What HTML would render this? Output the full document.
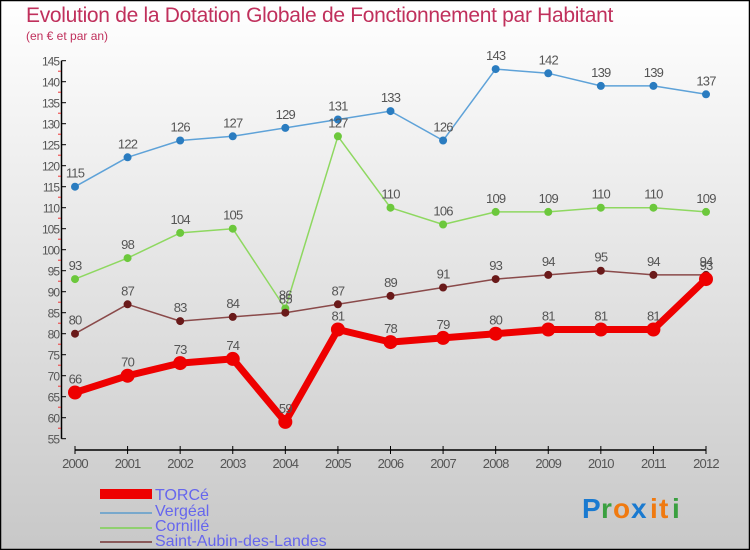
<!DOCTYPE html>
<html><head><meta charset="utf-8"><style>
body{margin:0;padding:0}
#c{width:750px;height:550px;position:relative;overflow:hidden}
svg text{font-family:"Liberation Sans",sans-serif}
</style></head><body>
<div id="c">
<svg id="s" width="750" height="550" xmlns="http://www.w3.org/2000/svg">
<defs><linearGradient id="bg" x1="0" y1="0" x2="0" y2="1"><stop offset="0" stop-color="#ffffff"/><stop offset="1" stop-color="#c8c8c8"/></linearGradient></defs>
<rect x="0.5" y="0.5" width="749" height="549" fill="url(#bg)" stroke="#000" stroke-width="1.5"/>
<text x="26" y="22" font-size="21" fill="#c0305c" letter-spacing="-0.3">Evolution de la Dotation Globale de Fonctionnement par Habitant</text>
<text x="26" y="40" font-size="12" fill="#c0305c">(en € et par an)</text>
<g id="axes"></g><g id="series"></g>
<g>
<rect x="100" y="489" width="52" height="10" fill="#e00"/>
<text x="155" y="500" font-size="16" fill="#6666ee">TORCé</text>
<line x1="100" y1="513" x2="152" y2="513" stroke="#78a8cc" stroke-width="2"/>
<text x="155" y="516" font-size="16" fill="#6666ee">Vergéal</text>
<line x1="100" y1="528" x2="152" y2="528" stroke="#90d070" stroke-width="2"/>
<text x="155" y="531" font-size="16" fill="#6666ee">Cornillé</text>
<line x1="100" y1="542" x2="152" y2="542" stroke="#8a5a5a" stroke-width="2"/>
<text x="155" y="546" font-size="16" fill="#6666ee">Saint-Aubin-des-Landes</text>
</g>
<g font-size="28" font-weight="bold">
<text x="582" y="518" fill="#1a7ad0">P</text><text x="601" y="518" fill="#3aa040">r</text><text x="613" y="518" fill="#f07a10">o</text><text x="631" y="518" fill="#1a7ad0">x</text><text x="650" y="518" fill="#f07a10">i</text><text x="659" y="518" fill="#f07a10">t</text><text x="672" y="518" fill="#3aa040">i</text>
</g>
</svg></div>
<script>
const years=["2000","2001","2002","2003","2004","2005","2006","2007","2008","2009","2010","2011","2012"];
const yTicks=[55,60,65,70,75,80,85,90,95,100,105,110,115,120,125,130,135,140,145];
const torce=[66,70,73,74,59,81,78,79,80,81,81,81,93];
const vergeal=[115,122,126,127,129,131,133,126,143,142,139,139,137];
const cornille=[93,98,104,105,86,127,110,106,109,109,110,110,109];
const saintAubin=[80,87,83,84,85,87,89,91,93,94,95,94,94];
const NS="http://www.w3.org/2000/svg";
function X(i){return 75+i*(706-75)/(years.length-1);}
function Y(v){return 60.7+(145-v)*4.2;}
function mk(t,a,p){const e=document.createElementNS(NS,t);for(const k in a)e.setAttribute(k,a[k]);p.appendChild(e);return e;}
const ax=document.getElementById('axes');
let yl=mk('line',{x1:61.5,y1:Y(145),x2:61.5,y2:Y(55),stroke:'#000','stroke-width':1.5},ax);


yTicks.forEach(v=>{
 const t=mk('line',{x1:61.5,y1:Y(v),x2:66,y2:Y(v),stroke:'#000'},ax);
 
 
 if(v<145){const m=mk('line',{x1:58,y1:Y(v+2.5),x2:61,y2:Y(v+2.5),stroke:'#e33'},ax);
 
 }
 const l=mk('text',{x:59,y:Y(v)+5,'font-size':12,fill:'#555','text-anchor':'end','letter-spacing':'-1'},ax);
 l.textContent=v;
 
 
});
let xl=mk('line',{x1:X(0),y1:450,x2:X(12),y2:450,stroke:'#000','stroke-width':1.5},ax);


years.forEach((y,i)=>{
 const t=mk('line',{x1:X(i),y1:446,x2:X(i),y2:454,stroke:'#000'},ax);
 
 
 const l=mk('text',{x:X(i),y:468,'font-size':13,fill:'#555','text-anchor':'middle','letter-spacing':'-0.8'},ax);
 l.textContent=y;
 
 
});
const sg=document.getElementById('series');
function draw(name,data,color,dot,w,r){
 const g=mk('g',{},sg);
 
 
 const pl=mk('polyline',{points:data.map((v,i)=>X(i)+','+Y(v)).join(' '),fill:'none',stroke:color,'stroke-width':w,'stroke-linejoin':'round'},g);
 
 
 data.forEach((v,i)=>{
  const c=mk('circle',{cx:X(i),cy:Y(v),r:r,fill:dot},g);
  
  
  const t=mk('text',{x:X(i),y:Y(v)-9,'font-size':13,fill:'#555','text-anchor':'middle','letter-spacing':'-0.8'},g);
  t.textContent=v;
  
  
 });
}
draw('vergeal',vergeal,'#5ea2d8','#2a7cc0',1.5,4);
draw('cornille',cornille,'#8ed860','#6cc83c',1.5,4);
draw('saint-aubin',saintAubin,'#8a4a4a','#6a1a1a',1.5,4);
draw('torce',torce,'#ee0000','#ee0000',7,7);
</script>
</body></html>
